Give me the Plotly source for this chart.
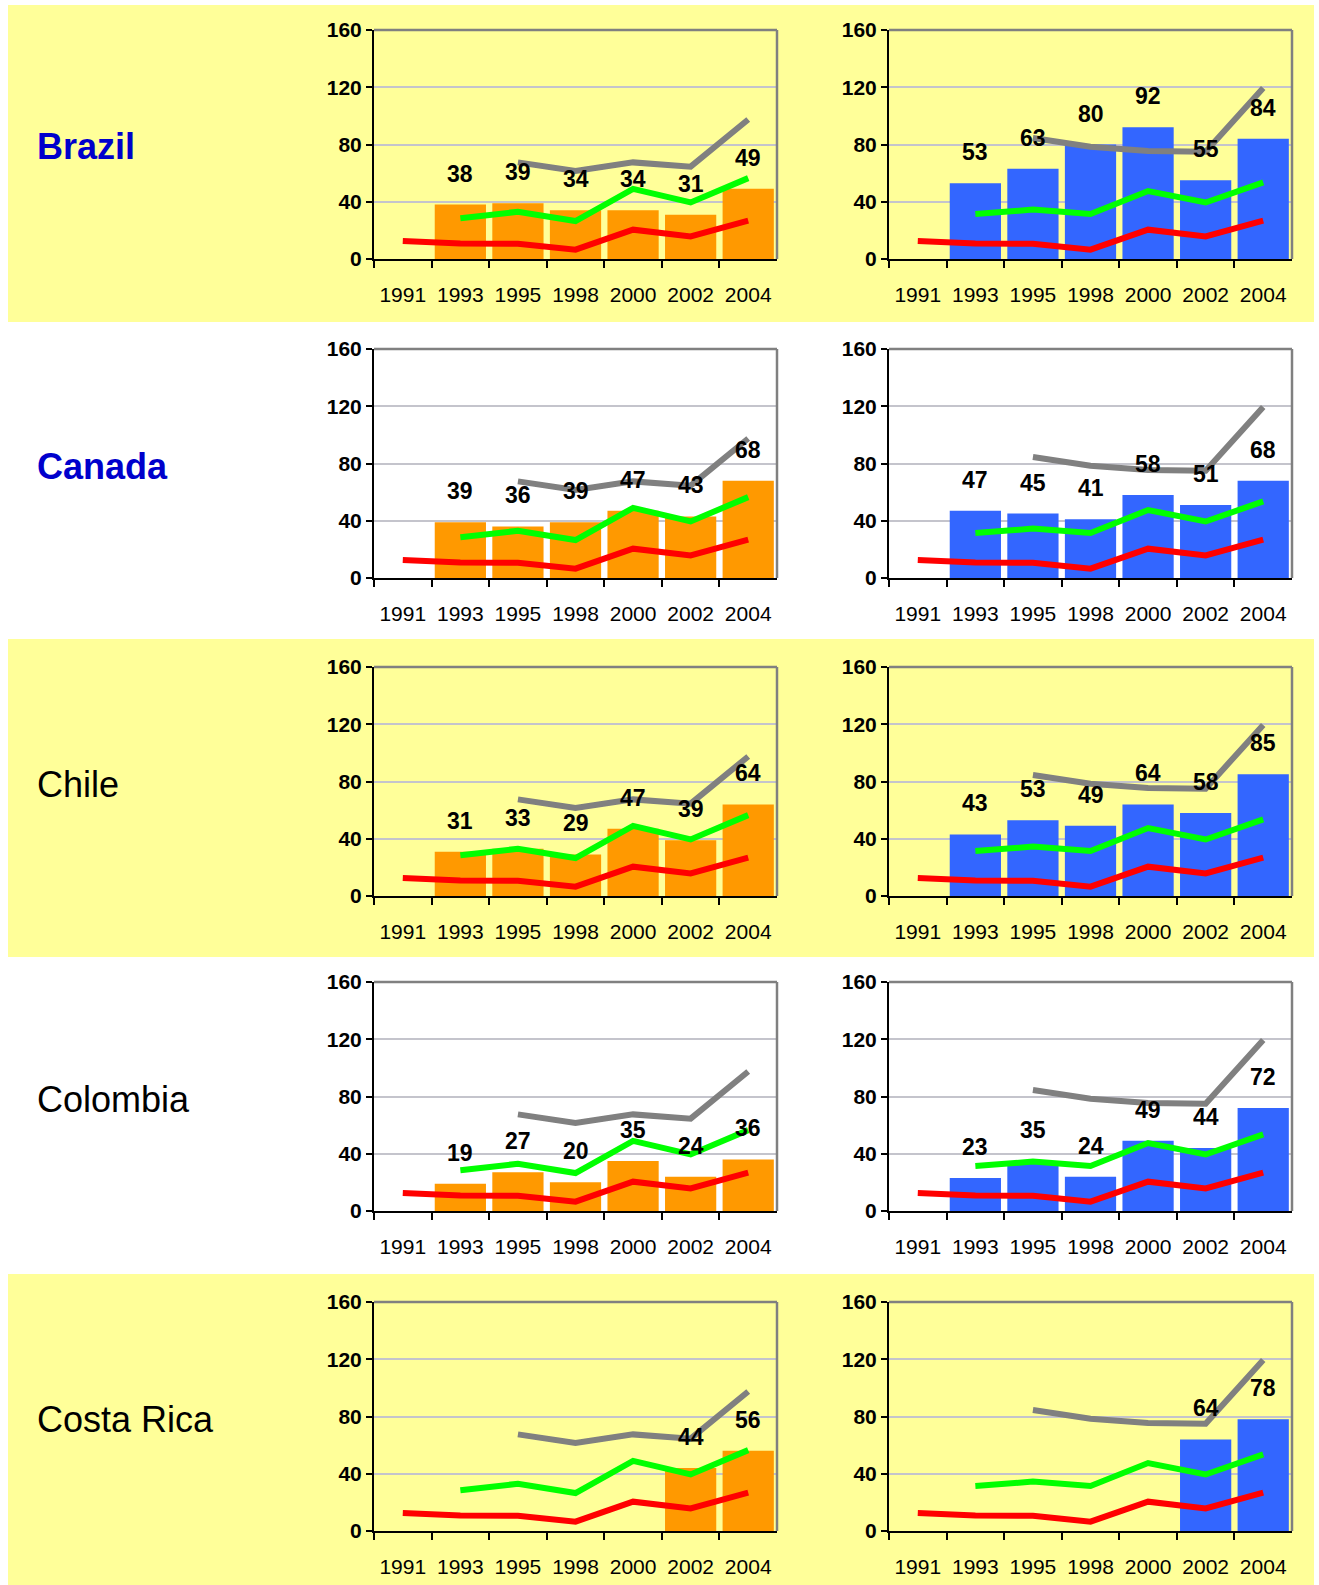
import plotly.graph_objects as go

W, H = 1319, 1585

years = ["1991", "1993", "1995", "1998", "2000", "2002", "2004"]
countries = ["Brazil", "Canada", "Chile", "Colombia", "Costa Rica"]

red_line = [12.5, 10.8, 10.7, 6.5, 20.5, 15.8, 26.8]
green_left = [None, 28.5, 33, 26.5, 49, 39.5, 56.5]
green_right = [None, 31.5, 34.5, 31.5, 47.5, 39.5, 53.5]
gray_left = [None, None, 67.5, 61.5, 67.5, 64.5, 97.5]
gray_right = [None, None, 84.5, 78.5, 75.5, 75, 119.5]

brazil_left = [None, 38, 39, 34, 34, 31, 49]
brazil_right = [None, 53, 63, 80, 92, 55, 84]
canada_left = [None, 39, 36, 39, 47, 43, 68]
canada_right = [None, 47, 45, 41, 58, 51, 68]
chile_left = [None, 31, 33, 29, 47, 39, 64]
chile_right = [None, 43, 53, 49, 64, 58, 85]
colombia_left = [None, 19, 27, 20, 35, 24, 36]
colombia_right = [None, 23, 35, 24, 49, 44, 72]
costarica_left = [None, None, None, None, None, 44, 56]
costarica_right = [None, None, None, None, None, 64, 78]

left_bars = [brazil_left, canada_left, chile_left, colombia_left, costarica_left]
right_bars = [brazil_right, canada_right, chile_right, colombia_right, costarica_right]

y_ticks = [0, 40, 80, 120, 160]

# ---- styling / layout constants ----
YELLOW = "#FFFF99"
ORANGE = "#FF9900"
BLUE = "#3366FF"
RED = "#FF0000"
GREEN = "#00FF00"
GRAY = "#808080"
FONT = "Liberation Sans, Arial, sans-serif"

row_tops = [30, 349, 667, 982, 1302]
plot_h = 229
col_x = [(374, 777), (889, 1292)]
bands = [(5, 322, True), (322, 639, False), (639, 957, True), (957, 1274, False), (1274, 1585, True)]
label_style = [
    dict(color="#0000CC", bold=True),
    dict(color="#0000CC", bold=True),
    dict(color="#000000", bold=False),
    dict(color="#000000", bold=False),
    dict(color="#000000", bold=False),
]

def px_x(v):
    return v / W

def px_y(v):
    return 1 - v / H

fig = go.Figure()
shapes = []
annotations = []

for (t, b, yel) in bands:
    if yel:
        shapes.append(dict(type="rect", xref="paper", yref="paper",
                           x0=px_x(8), x1=px_x(1314), y0=px_y(b), y1=px_y(t),
                           fillcolor=YELLOW, line=dict(width=0), layer="below"))

layout_axes = {}
idx = 0
for r, country in enumerate(countries):
    top = row_tops[r]
    for c in range(2):
        idx += 1
        xa = "x" if idx == 1 else f"x{idx}"
        ya = "y" if idx == 1 else f"y{idx}"
        bars = left_bars[r] if c == 0 else right_bars[r]
        green = green_left if c == 0 else green_right
        gray = gray_left if c == 0 else gray_right
        color = ORANGE if c == 0 else BLUE

        fig.add_trace(go.Bar(x=years, y=bars, marker=dict(color=color, line=dict(width=0)),
                             xaxis=xa, yaxis=ya, showlegend=False, hoverinfo="skip"))
        for series, col in [(red_line, RED), (green, GREEN), (gray, GRAY)]:
            fig.add_trace(go.Scatter(x=years, y=series, mode="lines",
                                     line=dict(color=col, width=6),
                                     connectgaps=False, xaxis=xa, yaxis=ya,
                                     showlegend=False, hoverinfo="skip"))
        for k, v in enumerate(bars):
            if v is None:
                continue
            annotations.append(dict(x=k, y=v, xref=xa, yref=ya, text=f"<b>{v}</b>",
                                    showarrow=False, yshift=31, yanchor="middle",
                                    font=dict(family=FONT, size=23, color="#000000")))

        x0, x1 = col_x[c]
        xkey = "xaxis" if idx == 1 else f"xaxis{idx}"
        ykey = "yaxis" if idx == 1 else f"yaxis{idx}"
        layout_axes[xkey] = dict(
            domain=[px_x(x0), px_x(x1)], anchor=ya, type="category",
            categoryorder="array", categoryarray=years, range=[-0.5, 6.5],
            showgrid=False, showline=True, linecolor="#000000", linewidth=2,
            ticks="outside", tickson="boundaries", ticklen=7, tickcolor="#000000", tickwidth=1.5,
            tickangle=0, tickfont=dict(family=FONT, size=21, color="#000000"),
            ticklabelstandoff=16,
            zeroline=False, fixedrange=True, automargin=False)
        layout_axes[ykey] = dict(
            domain=[px_y(top + plot_h), px_y(top)], anchor=xa, range=[0, 160],
            tickvals=y_ticks, ticktext=[f"<b>{v}</b>" for v in y_ticks],
            showgrid=True, gridcolor="#C4C4CC", gridwidth=2,
            showline=True, linecolor="#000000", linewidth=2,
            ticks="outside", ticklen=6, tickcolor="#000000", tickwidth=1.5,
            tickfont=dict(family=FONT, size=21, color="#000000"),
            zeroline=False, fixedrange=True, automargin=False)
        xd = f"{xa} domain"
        yd = f"{ya} domain"
        shapes.append(dict(type="line", xref=xd, yref=yd, x0=0, x1=1, y0=1, y1=1,
                           line=dict(color=GRAY, width=2.5), layer="above"))
        shapes.append(dict(type="line", xref=xd, yref=yd, x0=1, x1=1, y0=0, y1=1,
                           line=dict(color=GRAY, width=2.5), layer="above"))

    st = label_style[r]
    txt = f"<b>{country}</b>" if st["bold"] else country
    annotations.append(dict(xref="paper", yref="paper", x=px_x(35), y=px_y(top + 117),
                            xanchor="left", yanchor="middle", showarrow=False, text=txt,
                            font=dict(family=FONT, size=36, color=st["color"])))

fig.update_layout(
    width=W, height=H,
    margin=dict(l=0, r=0, t=0, b=0, pad=0, autoexpand=False),
    paper_bgcolor="#FFFFFF", plot_bgcolor="rgba(0,0,0,0)",
    bargap=0.11, showlegend=False,
    shapes=shapes, annotations=annotations,
    **layout_axes,
)

fig.write_html("out.html", config={"displayModeBar": False},
               post_script="document.body.style.margin='0';document.body.style.overflow='hidden';")
